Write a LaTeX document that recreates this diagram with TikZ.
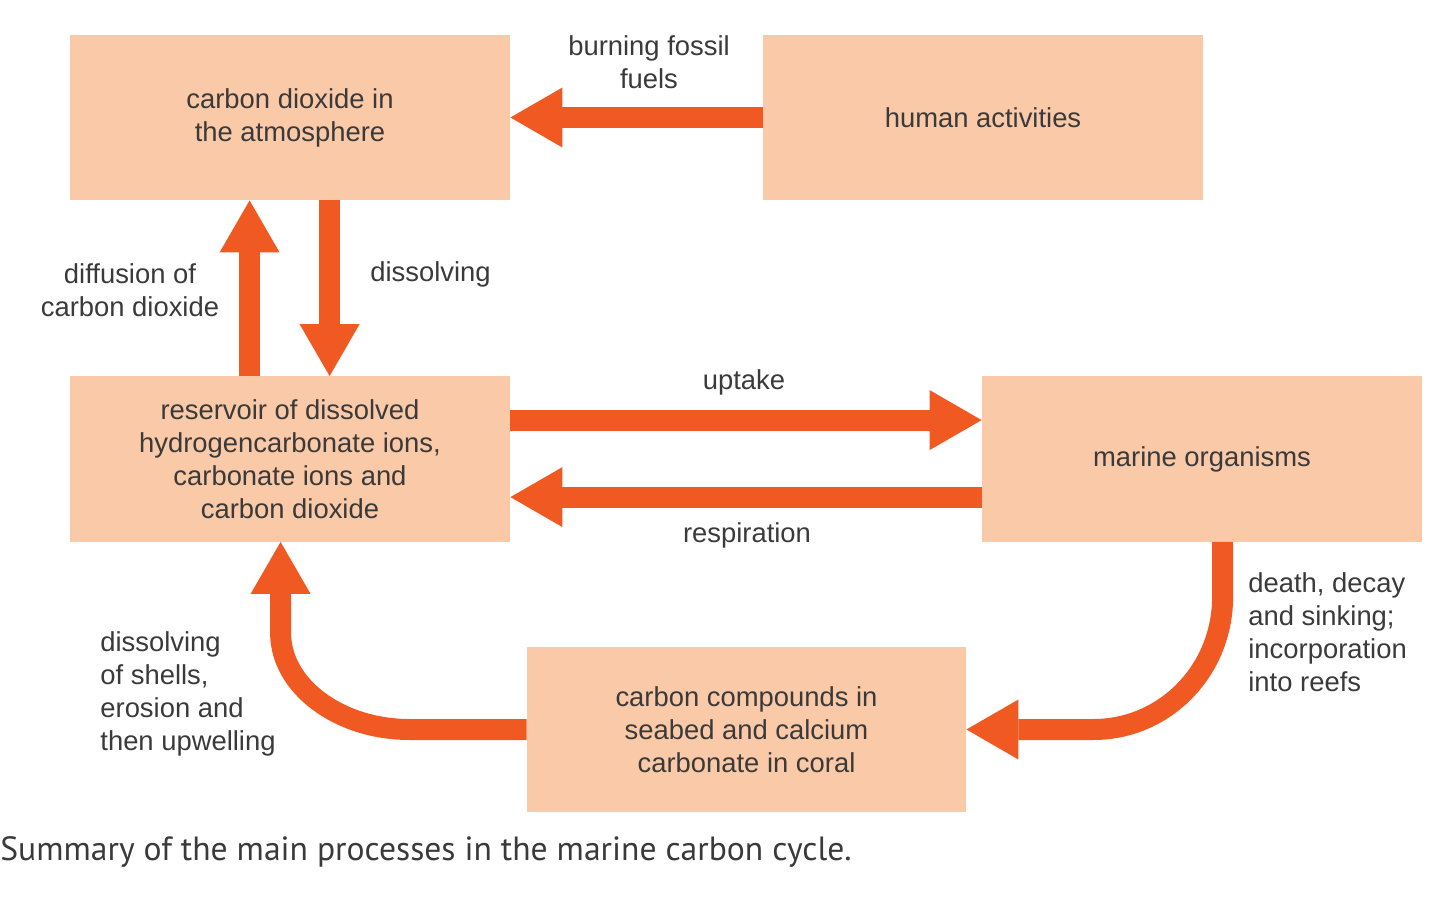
\documentclass[tikz,border=0pt]{standalone}
\usepackage{fontspec}
\setmainfont{Liberation Sans}
\newfontfamily\capfont{PT Sans}
\usetikzlibrary{arrows.meta,calc}
\definecolor{boxfill}{HTML}{FAC9A8}
\definecolor{arr}{HTML}{F05A22}
\definecolor{txt}{HTML}{3A3A3A}
\begin{document}
\begin{tikzpicture}[x=0.5pt,y=-0.5pt,
  box/.style={fill=boxfill, minimum width=220pt, minimum height=82.5pt, inner sep=0pt,
    align=center, text=txt, font=\fontsize{13.7}{16.5}\selectfont},
  flow/.style={draw=arr, line width=10.5pt,
    -{Triangle[length=26pt,width=30pt,line width=0pt]}},
  lbl/.style={text=txt, font=\fontsize{13.7}{16.5}\selectfont, align=center, inner sep=0pt}]
\useasboundingbox (0,0) rectangle (1440,898);

\node[box] (atm) at (290,117.5) {carbon dioxide in\\the atmosphere};
\node[box] (hum) at (983,117.5) {human activities};
\node[box] (res) at (290,459) {reservoir of dissolved\\hydrogencarbonate ions,\\carbonate ions and\\carbon dioxide};
\node[box] (mar) at (1202,459) {marine organisms};
\node[box, minimum width=219.5pt] (sea) at (746.5,729.5) {carbon compounds in\\seabed and calcium\\carbonate in coral};

\draw[flow] (hum.west) -- (atm.east);
\draw[flow] ($(res.north west)+(180,0)$) -- ($(atm.south west)+(180,0)$);
\draw[flow] ($(atm.south west)+(260,0)$) -- ($(res.north west)+(260,0)$);
\draw[flow] ($(res.north east)+(0,44)$) -- ($(mar.north west)+(0,44)$);
\draw[flow] ($(mar.north west)+(0,121)$) -- ($(res.north east)+(0,121)$);
\draw[flow] (sea.west) -- ($(sea.west)+(-117,0)$)
  .. controls ($(sea.west)+(-188,0)$) and ($(res.south west)+(211,144)$) ..
  ($(res.south west)+(211,91)$) -- ($(res.south west)+(211,0)$);
\draw[flow] ($(mar.south west)+(241,0)$) -- ($(mar.south west)+(241,55)$)
  .. controls ($(mar.south west)+(241,128)$) and ($(sea.east)+(199,0)$) ..
  ($(sea.east)+(127,0)$) -- (sea.east);

\node[lbl] (l1) at (649,62) {burning fossil\\fuels};
\node[lbl] (l2) at (130,290) {diffusion of\\carbon dioxide};
\node[lbl, anchor=west] (l3) at (370,274) {dissolving};
\node[lbl] (l4) at (744,382) {uptake};
\node[lbl] (l5) at (747,535) {respiration};
\node[lbl, anchor=west, align=left] (l6) at (1248,632.5) {death, decay\\and sinking;\\incorporation\\into reefs};
\node[lbl, anchor=west, align=left] (l7) at (100,693.5) {dissolving\\of shells,\\erosion and\\then upwelling};
\node[anchor=west, inner sep=0pt, text=txt, font=\capfont\fontsize{16.8}{19}\selectfont] (cap) at (0,852)
  {Summary of the main processes in the marine carbon cycle.};
\end{tikzpicture}
\end{document}
